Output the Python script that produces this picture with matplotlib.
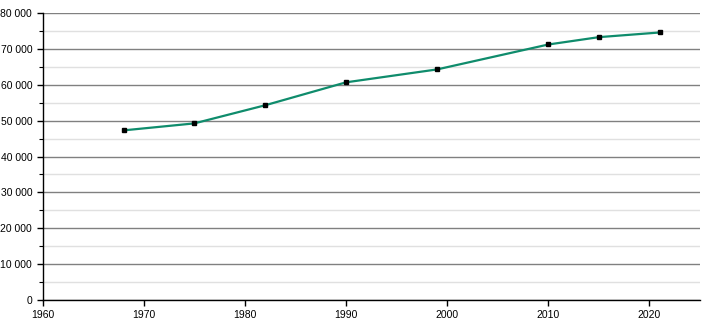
import matplotlib
matplotlib.use("Agg")
import matplotlib.pyplot as plt
from matplotlib.ticker import MultipleLocator, FuncFormatter

years = [1968, 1975, 1982, 1990, 1999, 2010, 2015, 2021]
population = [47300, 49250, 54300, 60700, 64300, 71250, 73300, 74600]

plt.rcParams['font.family'] = ['Liberation Sans', 'DejaVu Sans']

fig = plt.figure(figsize=(7.1, 3.2), dpi=100)
ax = fig.add_axes([0.06, 0.0625, 0.926, 0.8965])

ax.set_xlim(1960, 2025)
ax.set_ylim(0, 80000)

ax.yaxis.set_major_locator(MultipleLocator(10000))
ax.yaxis.set_minor_locator(MultipleLocator(5000))
ax.xaxis.set_major_locator(MultipleLocator(10))
ax.yaxis.set_major_formatter(FuncFormatter(lambda v, p: f"{int(v):,}".replace(",", " ")))

ax.grid(which='major', axis='y', color='#808080', linewidth=1.0)
ax.grid(which='minor', axis='y', color='#e0e0e0', linewidth=1.0)
ax.set_axisbelow(True)

ax.plot(years, population, color='#0f8c6c', linewidth=1.6, zorder=3)
ax.plot(years, population, linestyle='none', marker='s', markersize=3.3,
        color='black', zorder=4)

for s in ['top', 'right']:
    ax.spines[s].set_visible(False)
for s in ['left', 'bottom']:
    ax.spines[s].set_linewidth(1.0)
    ax.spines[s].set_color('black')

ax.tick_params(axis='both', which='major', labelsize=7.5, length=4, width=1, colors='black')
ax.tick_params(axis='y', which='minor', length=3, width=0.8)

fig.savefig('out.png', dpi=100)
